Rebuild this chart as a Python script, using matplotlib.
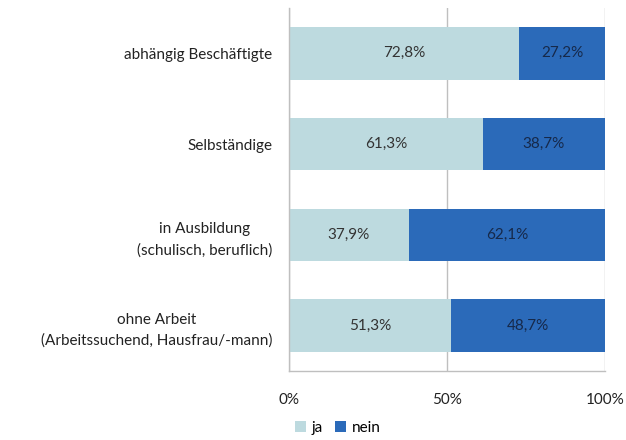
import matplotlib.pyplot as plt
import numpy as np

# Anteile ja / nein je Gruppe (in %)
gruppen = [
    "abhängig Beschäftigte",
    "Selbständige",
    "in Ausbildung\n(schulisch, beruflich)",
    "ohne Arbeit\n(Arbeitssuchend, Hausfrau/-mann)",
]
ja = [72.8, 61.3, 37.9, 51.3]
nein = [27.2, 38.7, 62.1, 48.7]
ticks = [0, 50, 100]
tick_labels = ["0%", "50%", "100%"]

plt.rcParams['font.family'] = ['Lato', 'DejaVu Sans']

farbe_ja = '#bddadf'
farbe_nein = '#2b6ab9'

fig = plt.figure(figsize=(6.26, 4.40), dpi=100)
ax = fig.add_axes([0.4617, 0.1568, 0.5048, 0.825])

y = np.arange(len(gruppen))
h = 0.58
b1 = ax.barh(y, ja, height=h, color=farbe_ja, label='ja', zorder=2)
b2 = ax.barh(y, nein, left=ja, height=h, color=farbe_nein, label='nein', zorder=2)

def fmt(v):
    return f"{v:.1f}%".replace('.', ',')

for i in range(len(gruppen)):
    ax.text(ja[i] / 2, y[i], fmt(ja[i]), ha='center', va='center',
            fontsize=11, color='#333333', zorder=3)
    ax.text(ja[i] + nein[i] / 2, y[i], fmt(nein[i]), ha='center', va='center',
            fontsize=11, color='#16294a', zorder=3)

ax.set_xlim(0, 100)
ax.set_ylim(len(gruppen) - 0.5, -0.5)
ax.set_yticks(y)
ax.set_yticklabels(gruppen, fontsize=11, color='#222222')
ax.set_xticks(ticks)
ax.set_xticklabels(tick_labels, fontsize=11, color='#222222')
ax.tick_params(axis='y', length=0, pad=12)
ax.tick_params(axis='x', length=0, pad=16)
for lbl in ax.get_yticklabels():
    lbl.set_multialignment('center')
    lbl.set_linespacing(1.6)

ax.xaxis.grid(True, color='#bfbfbf', linewidth=1, zorder=0)
ax.set_axisbelow(True)
for s in ['top', 'right']:
    ax.spines[s].set_visible(False)
for s in ['left', 'bottom']:
    ax.spines[s].set_color('#bfbfbf')
    ax.spines[s].set_linewidth(1)

fig.legend(handles=[b1, b2], labels=['ja', 'nein'], loc='center',
           bbox_to_anchor=(0.54, 0.027), ncol=2, frameon=False,
           fontsize=11, handlelength=0.7, handleheight=0.7,
           handletextpad=0.4, columnspacing=0.8)

fig.savefig('out.png', dpi=100)
